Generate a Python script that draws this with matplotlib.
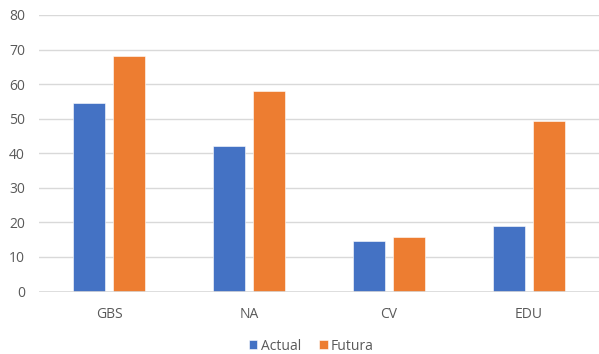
import numpy as np
import matplotlib.pyplot as plt

# -------------------------------------------------------
# Data
# -------------------------------------------------------

categories = ["GBS", "NA", "CV", "EDU"]
actual = [54.5, 42.0, 14.7, 19.0]
futura = [68.0, 58.0, 15.9, 49.2]
series_names = ["Actual", "Futura"]

BLUE = "#4472C4"
ORANGE = "#ED7D31"
GRID = "#D9D9D9"
TEXT = "#595959"

plt.rcParams["font.family"] = ["Open Sans", "DejaVu Sans"]

# -------------------------------------------------------
# Plot
# -------------------------------------------------------

fig = plt.figure(figsize=(5.99, 3.54), dpi=100)
ax = fig.add_axes([39 / 599, 1 - 291.5 / 354, 560 / 599, 276.5 / 354])

x = np.arange(len(categories))
width = 0.227
offset = 0.143

ax.bar(x - offset, actual, width, color=BLUE, edgecolor="white",
       linewidth=0.4, label=series_names[0], zorder=3)
ax.bar(x + offset, futura, width, color=ORANGE, edgecolor="white",
       linewidth=0.4, label=series_names[1], zorder=3)

ax.set_xlim(-0.5, len(categories) - 0.5)
ax.set_ylim(0, 80)
ax.set_yticks(range(0, 81, 10))
ax.set_xticks(x)
ax.set_xticklabels(categories)

for s in ax.spines.values():
    s.set_visible(False)

ax.grid(axis="y", color=GRID, linewidth=1.0, zorder=0)
ax.axhline(0, color=GRID, linewidth=1.2, zorder=4)

ax.tick_params(axis="both", length=0, labelsize=10, labelcolor=TEXT)
ax.tick_params(axis="y", pad=10)
ax.tick_params(axis="x", pad=11)

fig.legend(loc="center", bbox_to_anchor=(311.5 / 599, 1 - 346 / 354), ncol=2,
           frameon=False, fontsize=10, labelcolor=TEXT,
           handlelength=0.6, handleheight=0.6, handletextpad=0.25,
           columnspacing=1.3, borderpad=0)

fig.savefig("out.png", dpi=100)
